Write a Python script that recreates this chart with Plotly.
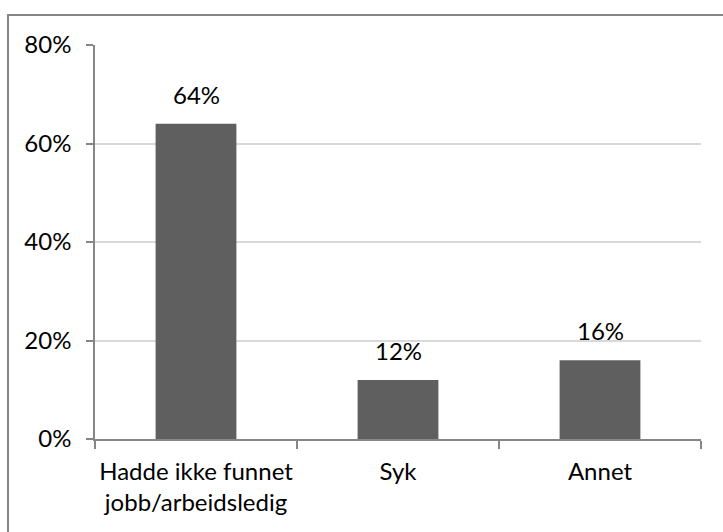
import plotly.graph_objects as go

# Share of respondents by reason
categories = ["Hadde ikke funnet<br>jobb/arbeidsledig", "Syk", "Annet"]
values = [0.64, 0.12, 0.16]
value_labels = ["64%", "12%", "16%"]

bar_color = "#5f5f5f"
axis_color = "#868686"
grid_color = "#d9d9d9"
font_family = "Lato, 'Open Sans', sans-serif"
font_size = 24

fig = go.Figure(
    go.Bar(
        x=categories,
        y=values,
        marker=dict(color=bar_color, line=dict(width=0)),
        width=0.4,
        hoverinfo="skip",
    )
)

# value labels above each bar
for cat, val, lab in zip(categories, values, value_labels):
    fig.add_annotation(
        x=cat, y=val, text=lab, showarrow=False,
        yanchor="bottom", yshift=13,
        font=dict(size=font_size, color="#000000", family=font_family),
    )

# outer chart frame
fig.add_shape(
    type="rect", xref="paper", yref="paper",
    x0=(8 - 95) / 606, x1=(740 - 95) / 606,
    y0=(439 - 545) / 394, y1=(439 - 15) / 394,
    line=dict(color=axis_color, width=2), fillcolor="rgba(0,0,0,0)",
    layer="above",
)

fig.update_layout(
    width=723, height=532,
    margin=dict(l=95, r=22, t=45, b=93),
    paper_bgcolor="white", plot_bgcolor="white",
    font=dict(family=font_family, size=font_size, color="#000000"),
    showlegend=False,
    bargap=0.6,
)
fig.update_xaxes(
    type="category",
    tickson="boundaries",
    tickangle=0, automargin=False,
    ticks="outside", ticklen=8, tickcolor=axis_color, tickwidth=1.5,
    showline=True, linecolor=axis_color, linewidth=1.5,
    showgrid=False,
    tickfont=dict(size=font_size, color="#000000"),
    ticklabelstandoff=10,
)
fig.update_yaxes(
    range=[0, 0.8], dtick=0.2, tickformat=".0%",
    automargin=False,
    ticks="outside", ticklen=7, tickcolor=axis_color, tickwidth=1.5,
    showline=True, linecolor=axis_color, linewidth=1.5,
    showgrid=True, gridcolor=grid_color, gridwidth=1.5,
    zeroline=False,
    tickfont=dict(size=font_size, color="#000000"),
    ticklabelstandoff=10,
)

fig.write_html("out.html")
